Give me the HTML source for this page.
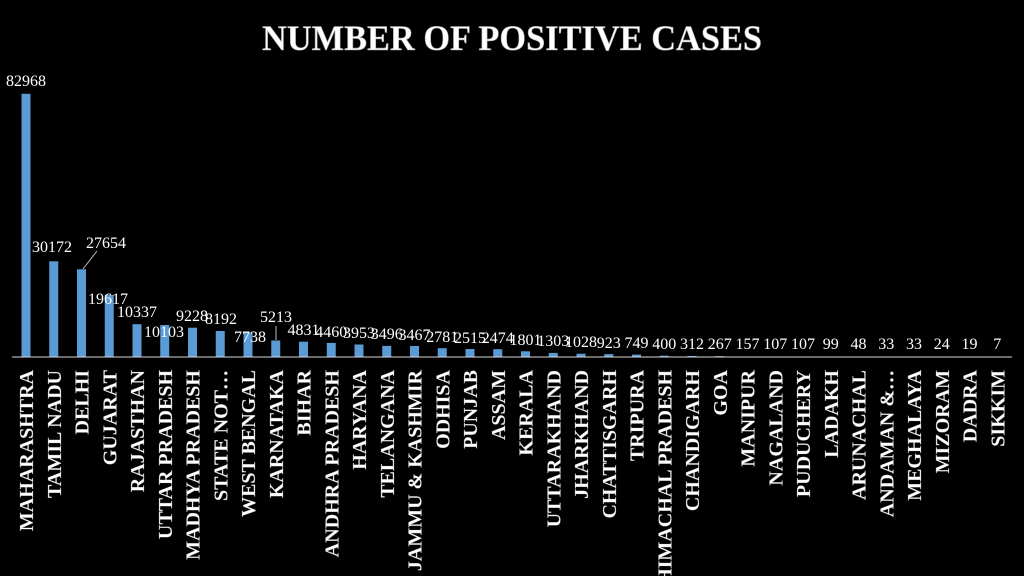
<!DOCTYPE html>
<html><head><meta charset="utf-8"><style>
html,body{margin:0;padding:0;background:#000;width:1024px;height:576px;overflow:hidden}
svg{display:block}
.t{font-family:"Liberation Serif",serif;font-weight:bold;fill:#fff}
.d{font-family:"Liberation Serif",serif;font-size:16px;fill:#fff;text-anchor:middle}
.c{font-family:"Liberation Serif",serif;font-weight:bold;font-size:20px;fill:#fff;text-anchor:end;stroke:#888;stroke-width:0.3}
</style></head><body>
<svg width="1024" height="576" xmlns="http://www.w3.org/2000/svg">
<text class="t" x="262" y="50" font-size="36" textLength="500" lengthAdjust="spacingAndGlyphs" stroke="#999" stroke-width="0.6">NUMBER OF POSITIVE CASES</text>
<g fill="#5b9bd5">
<rect x="21.5" y="93.8" width="9" height="263.2"/>
<rect x="49.25" y="261.3" width="9" height="95.7"/>
<rect x="77" y="269.3" width="9" height="87.7"/>
<rect x="104.75" y="294.8" width="9" height="62.2"/>
<rect x="132.5" y="324.2" width="9" height="32.8"/>
<rect x="160.25" y="325" width="9" height="32"/>
<rect x="188" y="327.7" width="9" height="29.3"/>
<rect x="215.75" y="331" width="9" height="26"/>
<rect x="243.5" y="332.5" width="9" height="24.5"/>
<rect x="271.25" y="340.5" width="9" height="16.5"/>
<rect x="299" y="341.7" width="9" height="15.3"/>
<rect x="326.75" y="342.9" width="9" height="14.1"/>
<rect x="354.5" y="344.5" width="9" height="12.5"/>
<rect x="382.25" y="345.9" width="9" height="11.1"/>
<rect x="410" y="346" width="9" height="11"/>
<rect x="437.75" y="348.2" width="9" height="8.8"/>
<rect x="465.5" y="349" width="9" height="8"/>
<rect x="493.25" y="349.2" width="9" height="7.8"/>
<rect x="521" y="351.3" width="9" height="5.7"/>
<rect x="548.75" y="352.9" width="9" height="4.1"/>
<rect x="576.5" y="353.7" width="9" height="3.3"/>
<rect x="604.25" y="354.1" width="9" height="2.9"/>
<rect x="632" y="354.6" width="9" height="2.4"/>
<rect x="659.75" y="355.7" width="9" height="1.3"/>
<rect x="687.5" y="356" width="9" height="1"/>
<rect x="715.25" y="356.1" width="9" height="0.9"/>
<rect x="743" y="356.5" width="9" height="0.5"/>
<rect x="770.75" y="356.6" width="9" height="0.4"/>
<rect x="798.5" y="356.6" width="9" height="0.4"/>
</g>
<line x1="12" y1="357" x2="1012" y2="357" stroke="#d9d9d9" stroke-width="1"/>
<line x1="97" y1="251" x2="83" y2="269" stroke="#bbb" stroke-width="1"/>
<line x1="276" y1="326" x2="276" y2="340" stroke="#bbb" stroke-width="1"/>
<g class="d">
<text x="26" y="86">82968</text>
<text x="52" y="252">30172</text>
<text x="106" y="248">27654</text>
<text x="108" y="304">19617</text>
<text x="137" y="317">10337</text>
<text x="164" y="337">10103</text>
<text x="192" y="321">9228</text>
<text x="221" y="324">8192</text>
<text x="250" y="342">7738</text>
<text x="276" y="322">5213</text>
<text x="303.5" y="335">4831</text>
<text x="331.25" y="337">4460</text>
<text x="359" y="338">3953</text>
<text x="386.75" y="339">3496</text>
<text x="414.5" y="340">3467</text>
<text x="442.25" y="342">2781</text>
<text x="470" y="343">2515</text>
<text x="497.75" y="343">2474</text>
<text x="525.5" y="345">1801</text>
<text x="553.25" y="346">1303</text>
<text x="581" y="347">1028</text>
<text x="608.75" y="348">923</text>
<text x="636.5" y="348">749</text>
<text x="664.25" y="349">400</text>
<text x="692" y="349">312</text>
<text x="719.75" y="349">267</text>
<text x="747.5" y="349">157</text>
<text x="775.25" y="349">107</text>
<text x="803" y="349">107</text>
<text x="830.75" y="349">99</text>
<text x="858.5" y="349">48</text>
<text x="886.25" y="349">33</text>
<text x="914" y="349">33</text>
<text x="941.75" y="349">24</text>
<text x="969.5" y="349">19</text>
<text x="997.25" y="349">7</text>
</g>
<g class="c">
<text transform="translate(33,370) rotate(-90)">MAHARASHTRA</text>
<text transform="translate(60.75,370) rotate(-90)">TAMIL NADU</text>
<text transform="translate(88.5,370) rotate(-90)">DELHI</text>
<text transform="translate(116.25,370) rotate(-90)">GUJARAT</text>
<text transform="translate(144,370) rotate(-90)">RAJASTHAN</text>
<text transform="translate(171.75,370) rotate(-90)">UTTAR PRADESH</text>
<text transform="translate(199.5,370) rotate(-90)">MADHYA PRADESH</text>
<text transform="translate(227.25,370) rotate(-90)">STATE NOT…</text>
<text transform="translate(255,370) rotate(-90)">WEST BENGAL</text>
<text transform="translate(282.75,370) rotate(-90)">KARNATAKA</text>
<text transform="translate(310.5,370) rotate(-90)">BIHAR</text>
<text transform="translate(338.25,370) rotate(-90)">ANDHRA PRADESH</text>
<text transform="translate(366,370) rotate(-90)">HARYANA</text>
<text transform="translate(393.75,370) rotate(-90)">TELANGANA</text>
<text transform="translate(421.5,370) rotate(-90)">JAMMU &amp; KASHMIR</text>
<text transform="translate(449.25,370) rotate(-90)">ODHISA</text>
<text transform="translate(477,370) rotate(-90)">PUNJAB</text>
<text transform="translate(504.75,370) rotate(-90)">ASSAM</text>
<text transform="translate(532.5,370) rotate(-90)">KERALA</text>
<text transform="translate(560.25,370) rotate(-90)">UTTARAKHAND</text>
<text transform="translate(588,370) rotate(-90)">JHARKHAND</text>
<text transform="translate(615.75,370) rotate(-90)">CHATTISGARH</text>
<text transform="translate(643.5,370) rotate(-90)">TRIPURA</text>
<text transform="translate(671.25,370) rotate(-90)">HIMACHAL PRADESH</text>
<text transform="translate(699,370) rotate(-90)">CHANDIGARH</text>
<text transform="translate(726.75,370) rotate(-90)">GOA</text>
<text transform="translate(754.5,370) rotate(-90)">MANIPUR</text>
<text transform="translate(782.25,370) rotate(-90)">NAGALAND</text>
<text transform="translate(810,370) rotate(-90)">PUDUCHERY</text>
<text transform="translate(837.75,370) rotate(-90)">LADAKH</text>
<text transform="translate(865.5,370) rotate(-90)">ARUNACHAL</text>
<text transform="translate(893.25,370) rotate(-90)">ANDAMAN &amp;…</text>
<text transform="translate(921,370) rotate(-90)">MEGHALAYA</text>
<text transform="translate(948.75,370) rotate(-90)">MIZORAM</text>
<text transform="translate(976.5,370) rotate(-90)">DADRA</text>
<text transform="translate(1004.25,370) rotate(-90)">SIKKIM</text>
</g>
</svg>
</body></html>
